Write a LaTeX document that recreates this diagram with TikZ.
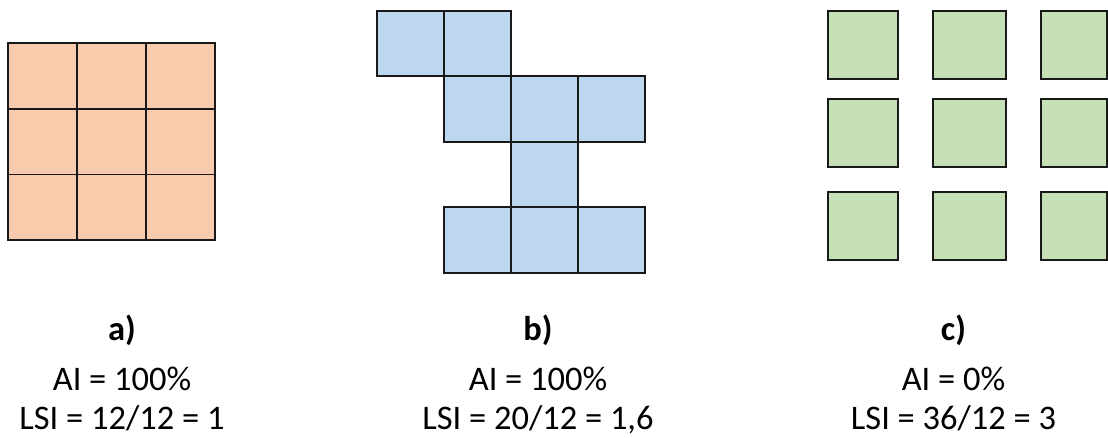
\documentclass[tikz,border=0pt]{standalone}
\usepackage{fontspec}
\setmainfont{Carlito}
\usepackage{xcolor}
\definecolor{patchorange}{RGB}{248,203,173}
\definecolor{patchblue}{RGB}{189,215,238}
\definecolor{patchgreen}{RGB}{197,224,180}

\begin{document}
\begin{tikzpicture}[
        x=0.025cm,
        y=-0.025cm,
        cell/.style={
            draw=black!90,
            line width=1.4pt
        },
        caption/.style={
            anchor=base,
            inner sep=0pt,
            font=\fontsize{24.5}{29}\selectfont\bfseries
        },
        metric/.style={
            anchor=base,
            inner sep=0pt,
            font=\fontsize{24.5}{29}\selectfont
        }
    ]
        \useasboundingbox (0,0) rectangle (1108,438);
        % a) one compact patch
        \foreach \i in {0,1,2}
            \foreach \j in {0,1,2}
                \draw[cell, fill=patchorange] (8+69*\i,43.3+65.6*\j) rectangle ++(69,65.6);
        % b) same cells, irregular shape
        \foreach \i/\j in {0/0,1/0,1/1,2/1,3/1,2/2,1/3,2/3,3/3}
            \draw[cell, fill=patchblue] (376.7+67.1*\i,11+65.4*\j) rectangle ++(67.1,65.4);
        % c) all cells apart
        \foreach \x/\w in {827.7/70,932.7/73,1041/65.7}
            \foreach \y/\h in {11/68.3,99.3/68,192.3/67.7}
                \draw[cell, fill=patchgreen] (\x,\y) rectangle ++(\w,\h);
        \node[caption] (capA) at (122,340) {a)};
        \node[metric] (aiA) at (122,390.5) {AI = 100\%};
        \node[metric] (lsiA) at (122,429.5) {LSI = 12/12 = 1};
        \node[caption] (capB) at (538,340) {b)};
        \node[metric] (aiB) at (538,390.5) {AI = 100\%};
        \node[metric] (lsiB) at (538,429.5) {LSI = 20/12 = 1,6};
        \node[caption] (capC) at (953.5,340) {c)};
        \node[metric] (aiC) at (953.5,390.5) {AI = 0\%};
        \node[metric] (lsiC) at (953.5,429.5) {LSI = 36/12 = 3};
    \end{tikzpicture}
\end{document}
